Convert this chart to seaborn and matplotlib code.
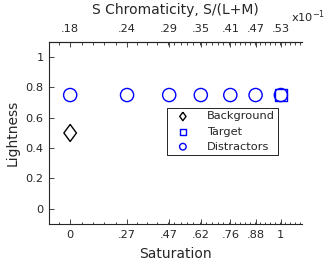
import matplotlib
matplotlib.use("Agg")
import matplotlib.pyplot as plt
import numpy as np
import seaborn as sns
from matplotlib.path import Path

# bottom axis: saturation, top axis: matching S chromaticity values
saturation = [0, 0.27, 0.47, 0.62, 0.76, 0.88, 1]
sat_labels = ["0", ".27", ".47", ".62", ".76", ".88", "1"]
s_chroma = [0.18, 0.24, 0.29, 0.35, 0.41, 0.47, 0.53]
s_labels = [".18", ".24", ".29", ".35", ".41", ".47", ".53"]
y_ticks = [0, 0.2, 0.4, 0.6, 0.8, 1]
y_labels = ["0", "0.2", "0.4", "0.6", "0.8", "1"]

background_x = [0]
background_y = [0.5]
target_x = [1]
target_y = [0.75]
distractor_x = [0, 0.27, 0.47, 0.62, 0.76, 0.88, 1]
distractor_y = [0.75, 0.75, 0.75, 0.75, 0.75, 0.75, 0.75]

sns.set_style("ticks")
dark = "#262626"
plt.rcParams["font.family"] = ["DejaVu Sans"]
plt.rcParams["text.color"] = dark
plt.rcParams["axes.labelcolor"] = dark
plt.rcParams["xtick.color"] = dark
plt.rcParams["ytick.color"] = dark

fig = plt.figure(figsize=(3.34, 2.67), dpi=100)
ax = fig.add_axes([0.147, 0.161, 0.757, 0.682])

diamond = Path([(0, 1), (0.74, 0), (0, -1), (-0.74, 0), (0, 1)])

sns.scatterplot(x=background_x, y=background_y, marker=diamond, s=150,
                facecolors="none", edgecolor="black", linewidth=1.0,
                label="Background", ax=ax)
sns.scatterplot(x=target_x, y=target_y, marker="s", s=75,
                facecolors="none", edgecolor="blue", linewidth=1.0,
                label="Target", ax=ax)
sns.scatterplot(x=distractor_x, y=distractor_y, marker="o", s=90,
                facecolors="none", edgecolor="blue", linewidth=1.0,
                label="Distractors", ax=ax)

ax.set_xlim(-0.1, 1.1)
ax.set_ylim(-0.1, 1.1)
ax.set_xticks(saturation)
ax.set_xticklabels(sat_labels)
ax.set_yticks(y_ticks)
ax.set_yticklabels(y_labels)

# minor ticks every 0.012 in S chromaticity, mapped onto saturation
s_minor = np.arange(0.168, 0.62, 0.012)
sat_minor = np.interp(s_minor, s_chroma, saturation)
lo = s_minor < s_chroma[0]
sat_minor[lo] = (s_minor[lo] - s_chroma[0]) * (saturation[1] - saturation[0]) / (s_chroma[1] - s_chroma[0])
hi = s_minor > s_chroma[-1]
sat_minor[hi] = 1 + (s_minor[hi] - s_chroma[-1]) * (saturation[-1] - saturation[-2]) / (s_chroma[-1] - s_chroma[-2])
sat_minor = sat_minor[sat_minor <= 1.1]
ax.set_xticks(sat_minor, minor=True)

ax.set_xlabel("Saturation", fontsize=10, labelpad=5)
ax.set_ylabel("Lightness", fontsize=10, labelpad=4)
ax.tick_params(axis="both", which="major", direction="in", length=3.5,
               width=0.6, labelsize=8.2, pad=4)
ax.tick_params(axis="x", which="minor", direction="in", length=1.8, width=0.6)
for side in ["left", "bottom"]:
    ax.spines[side].set_color(dark)
    ax.spines[side].set_linewidth(0.8)
ax.spines["right"].set_visible(False)

ax2 = ax.twiny()
ax2.set_xlim(ax.get_xlim())
ax2.set_xticks(saturation)
ax2.set_xticklabels(s_labels)
ax2.set_xticks(sat_minor, minor=True)
ax2.tick_params(axis="x", which="major", direction="in", length=3.5,
                width=0.6, labelsize=8.2, pad=6)
ax2.tick_params(axis="x", which="minor", direction="in", length=1.8, width=0.6)
ax2.set_xlabel("S Chromaticity, S/(L+M)", fontsize=10, labelpad=7)
ax2.spines["top"].set_color(dark)
ax2.spines["top"].set_linewidth(0.8)
for side in ["right", "left", "bottom"]:
    ax2.spines[side].set_visible(False)
ax.text(0.957, 1.11, r"x10$^{\mathregular{-1}}$", transform=ax.transAxes,
        fontsize=8.2, ha="left", va="baseline")

leg = ax.legend(loc="upper left", bbox_to_anchor=(0.466, 0.637), borderaxespad=0,
                fontsize=8.2, markerscale=0.5, frameon=True, fancybox=False,
                framealpha=1, edgecolor="black", handletextpad=1.0,
                labelspacing=0.45, borderpad=0.3, handlelength=2.2)
leg.get_frame().set_linewidth(0.6)

fig.savefig("out.png", dpi=100)
